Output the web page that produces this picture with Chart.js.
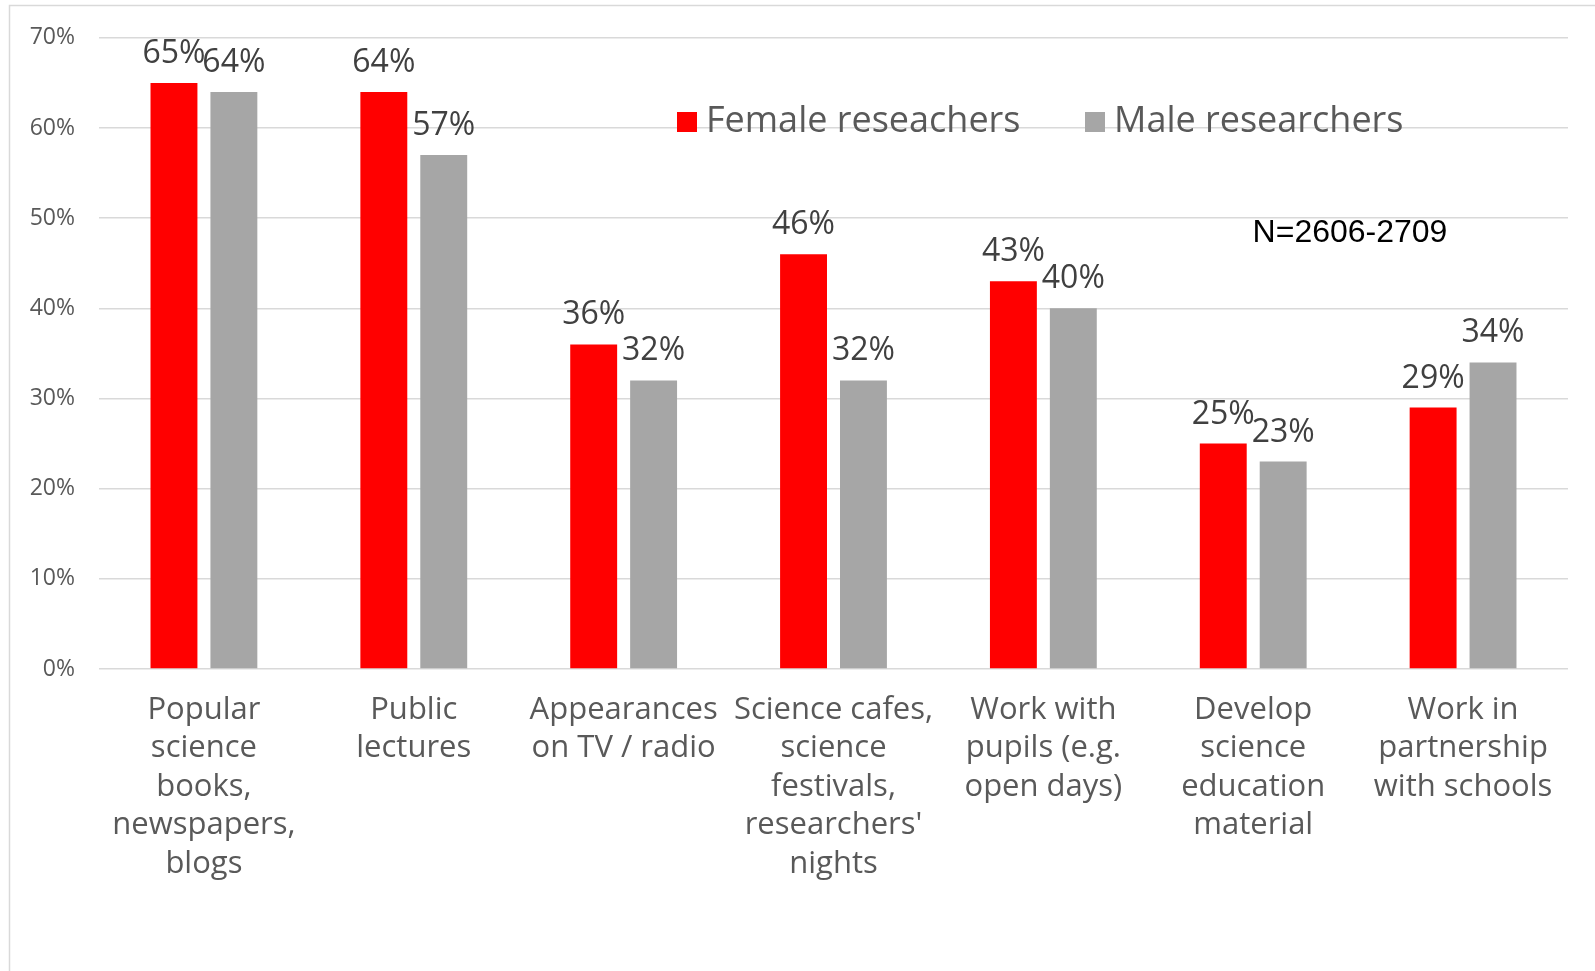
<!DOCTYPE html>
<html>
<head>
<meta charset="utf-8">
<script src="https://cdn.jsdelivr.net/npm/chart.js@4.4.1/dist/chart.umd.min.js"></script>
<style>
  html, body { margin: 0; padding: 0; background: #fff; }
  canvas { display: block; }
</style>
</head>
<body>
<canvas id="graficoActividades" width="1595" height="971"></canvas>
<script>
const categories = [
  ["Popular", "science", "books,", "newspapers,", "blogs"],
  ["Public", "lectures"],
  ["Appearances", "on TV / radio"],
  ["Science cafes,", "science", "festivals,", "researchers'", "nights"],
  ["Work with", "pupils (e.g.", "open days)"],
  ["Develop", "science", "education", "material"],
  ["Work in", "partnership", "with schools"],
];
const female = [65, 64, 36, 46, 43, 25, 29];
const male = [64, 57, 32, 32, 40, 23, 34];
const yTicks = [0, 10, 20, 30, 40, 50, 60, 70];
const note = "N=2606-2709";

const FONT = "'Open Sans', 'Noto Sans', sans-serif";

// frame lines (the original is cropped on the right and bottom)
const framePlugin = {
  id: "frame",
  beforeDraw(chart) {
    const ctx = chart.ctx;
    ctx.save();
    ctx.strokeStyle = "#d9d9d9";
    ctx.lineWidth = 1.5;
    ctx.beginPath();
    ctx.moveTo(9.5, chart.height);
    ctx.lineTo(9.5, 5.5);
    ctx.lineTo(chart.width, 5.5);
    ctx.stroke();
    ctx.restore();
  },
};

// value labels above each bar
const valueLabels = {
  id: "valueLabels",
  afterDatasetsDraw(chart) {
    const ctx = chart.ctx;
    ctx.save();
    ctx.font = "32px " + FONT;
    ctx.fillStyle = "#404040";
    ctx.textAlign = "center";
    ctx.textBaseline = "alphabetic";
    chart.data.datasets.forEach((ds, i) => {
      chart.getDatasetMeta(i).data.forEach((bar, j) => {
        ctx.fillText(ds.data[j] + "%", bar.x, bar.y - 20);
      });
    });
    ctx.restore();
  },
};

// legend inside the plot + sample size note
const innerLegend = {
  id: "innerLegend",
  afterDraw(chart) {
    const ctx = chart.ctx;
    const items = [
      { x: 677, ds: chart.data.datasets[0] },
      { x: 1085, ds: chart.data.datasets[1] },
    ];
    ctx.save();
    ctx.font = "36px " + FONT;
    ctx.textBaseline = "middle";
    ctx.textAlign = "left";
    items.forEach((it) => {
      ctx.fillStyle = it.ds.backgroundColor;
      ctx.fillRect(it.x, 112, 20, 20);
      ctx.fillStyle = "#595959";
      ctx.fillText(it.ds.label, it.x + 29, 122);
    });
    ctx.font = "32px 'Liberation Sans', Arial, sans-serif";
    ctx.fillStyle = "#000";
    ctx.textAlign = "center";
    ctx.fillText(note, 1350, 233);
    ctx.restore();
  },
};

const ctx = document.getElementById("graficoActividades").getContext("2d");
new Chart(ctx, {
  type: "bar",
  data: {
    labels: categories,
    datasets: [
      {
        label: "Female reseachers",
        data: female,
        backgroundColor: "#ff0000",
        borderWidth: 0,
        categoryPercentage: 0.571,
        barPercentage: 0.783,
      },
      {
        label: "Male researchers",
        data: male,
        backgroundColor: "#a6a6a6",
        borderWidth: 0,
        categoryPercentage: 0.571,
        barPercentage: 0.783,
      },
    ],
  },
  options: {
    responsive: false,
    animation: false,
    layout: { padding: { left: 0, right: 27, top: 35, bottom: 0 } },
    plugins: {
      legend: { display: false },
      tooltip: { enabled: false },
    },
    scales: {
      x: {
        grid: { display: false, drawTicks: false },
        border: { display: false },
        ticks: {
          autoSkip: false,
          maxRotation: 0,
          minRotation: 0,
          padding: 22,
          color: "#595959",
          font: { family: FONT, size: 31, lineHeight: 1.24 },
        },
        afterFit(scale) {
          scale.height = 302;
        },
      },
      y: {
        min: 0,
        max: 70,
        afterBuildTicks(scale) {
          scale.ticks = yTicks.map((v) => ({ value: v }));
        },
        grid: { color: "#d9d9d9", lineWidth: 1.5, drawTicks: false },
        border: { display: false },
        ticks: {
          padding: 24,
          color: "#595959",
          font: { family: FONT, size: 23 },
          callback: (v) => v + "%",
        },
        afterFit(scale) {
          scale.width = 99;
        },
      },
    },
  },
  plugins: [framePlugin, valueLabels, innerLegend],
});
</script>
</body>
</html>
